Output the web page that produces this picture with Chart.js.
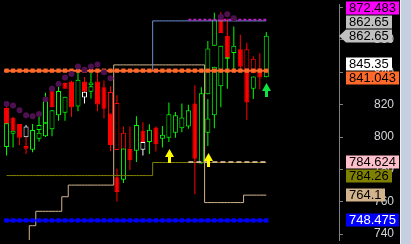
<!DOCTYPE html>
<html>
<head>
<meta charset="utf-8">
<script src="https://cdn.jsdelivr.net/npm/chart.js@4.4.1/dist/chart.umd.min.js"></script>
<style>
  html, body { margin: 0; padding: 0; background: #000; overflow: hidden; }
  #wrap { display: flex; width: 411px; height: 244px; }
  #side { width: 10px; height: 244px; background: #c6cfdf; border-left: 1px solid #eef0f5; }
</style>
</head>
<body>
<div id="wrap"><canvas id="chart" width="400" height="244"></canvas><div id="side"></div></div>
<script>
// main bars (index 0..40)
const openA  = [817.9, 811.9, 808.1, 799.9, 792.1, 804.3, 808.5, 829.5, 813.5, 833.4, 834.4, 818.9, 834.4, 832.0, 834.4, 830.8, 795.1, 792.0, 792.0, 792.6, 791.6, 803.9, 796.9, 805.9, 799.0, 799.6, 802.6, 805.5, 806.5, 820.8, 783.6, 826.5, 856.4, 873.3, 862.7, 851.9, 854.3, 841.4, 839.4, 842.4, 837.0];
const highA  = [818.5, 812.5, 808.1, 807.5, 808.1, 812.9, 827.4, 830.4, 833.4, 833.8, 834.8, 841.4, 837.0, 839.8, 840.4, 835.0, 831.4, 825.9, 806.5, 806.5, 812.9, 809.1, 807.9, 806.5, 806.9, 821.4, 815.5, 820.8, 819.9, 832.0, 830.8, 859.4, 876.9, 877.3, 873.3, 868.3, 863.3, 858.3, 850.0, 851.8, 864.9];
const lowA   = [808.1, 803.9, 795.1, 799.9, 790.6, 804.3, 808.5, 818.5, 810.1, 829.8, 812.5, 815.9, 828.0, 831.4, 815.9, 811.5, 791.2, 792.0, 779.6, 779.6, 784.6, 796.9, 789.6, 791.0, 793.6, 796.9, 799.6, 802.9, 805.1, 764.6, 783.6, 826.5, 856.4, 864.3, 848.4, 841.4, 841.4, 841.4, 839.4, 829.5, 837.0];
const closeA = [808.1, 803.9, 799.6, 806.5, 804.3, 807.5, 822.5, 818.5, 828.4, 829.8, 818.5, 835.4, 828.0, 833.8, 820.1, 817.5, 827.8, 821.1, 802.6, 785.6, 807.5, 796.9, 804.5, 795.6, 801.5, 814.1, 813.5, 812.1, 816.5, 786.6, 827.1, 854.7, 872.7, 864.3, 848.4, 856.4, 843.4, 854.3, 848.4, 836.8, 862.65];
// g = up hollow, r = down filled, w = white hollow, h = red hollow
const kindA  = ['r','r','r','w','g','g','g','r','g','r','r','g','r','g','r','r','h','h','h','r','g','r','g','r','g','g','g','g','g','r','g','g','g','r','r','g','r','h','h','r','g'];

// second overlaid series
const idxB   = [0, 1, 3, 5, 6, 7, 9, 12, 13, 16, 17, 18, 21, 31, 32, 33, 34, 37, 38];
const openB  = [793.9, 802.1, 794.4, 799.0, 800.5, 804.9, 815.1, 824.4, 828.0, 814.5, 775.2, 773.6, 792.1, 802.6, 813.5, 831.4, 848.4, 842.4, 829.8];
const highB  = [808.5, 803.9, 799.9, 804.3, 808.9, 816.5, 824.9, 828.0, 831.4, 814.5, 780.6, 793.0, 796.9, 823.5, 843.4, 856.4, 849.4, 842.4, 837.4];
const lowB   = [788.6, 793.6, 789.6, 797.2, 800.0, 800.5, 810.1, 820.8, 823.8, 795.1, 760.1, 771.6, 788.6, 794.5, 805.5, 818.5, 829.8, 810.5, 823.5];
const closeB = [808.5, 803.9, 792.7, 802.6, 808.9, 816.5, 824.9, 828.0, 831.4, 795.1, 766.1, 793.0, 796.9, 811.5, 843.4, 856.4, 849.4, 821.4, 837.4];
const kindB  = ['g','g','r','g','g','g','g','w','g','r','r','g','w','g','g','g','g','r','g'];

// dots above the bars
const dotIdx = [0, 1, 2, 3, 4, 5, 6, 7, 8, 9, 10, 11, 12, 13, 14, 15, 16, 33, 34, 35];
const dotVal = [820.5, 819.5, 816.5, 813.5, 812.9, 814.3, 823.2, 829.8, 832.8, 836.8, 839.0, 843.6, 841.6, 843.6, 844.8, 840.0, 836.4, 874.3, 875.9, 873.5];

// level lines
const orangeLevel = 841.043;
const blueLevel = 748.475;
const magentaLevel = 872.483;
const pinkLevel = 784.624;
const oliveFrom = [0, 23];
const oliveVal  = [776.2, 784.26];
const steelFrom = [0, 23];
const steelVal  = [841.0, 871.8];
const tanFrom = [-1, 4, 5, 9, 10, 17, 31, 37];
const tanVal  = [730, 745.2, 754.1, 763.1, 770.3, 844.6, 759.5, 764.1];

// arrows
const arrowIdx = [25, 31, 40];
const arrowVal = [792.6, 790.2, 833.4];
const arrowKind = ['y', 'y', 'g'];

// price tags on the axis
const tagText = ['872.483', '862.65', '862.65', '845.35', '841.043', '784.624', '784.26', '764.1', '748.475'];
const tagFill = ['#ff00ff', '#c0c0c0', '#c0c0c0', '#ffffff', '#ff6a2a', '#ffc0cb', '#808000', '#d2b48c', '#0000ff'];
const tagInk  = ['#000', '#000', '#000', '#000', '#000', '#000', '#000', '#000', '#fff'];
const lastTag = 2;

const lastIdx = openA.length - 1;

const bodyFill = { g: '#000000', r: '#ff0000', w: '#000000', h: '#000000' };
const bodyLine = { g: '#00ff00', r: '#ff0000', w: '#ffffff', h: '#ff0000' };

function range(a, b) {
    const out = [];
    for (let i = a; i <= b; i++) out.push(i);
    return out;
}

function steps(from, vals, first, last) {
    return range(first, last).map(i => {
        let v = vals[0];
        from.forEach((f, k) => { if (i >= f) v = vals[k]; });
        return { x: i, y: v };
    });
}

function flat(v, first, last) {
    return range(first, last).map(i => ({ x: i, y: v }));
}

function candleSets(ix, o, h, l, c, kind, order) {
    const wick = {
        type: 'bar', order: order + 1, grouped: false, barThickness: 1,
        borderWidth: 0, inflateAmount: 0,
        data: ix.map((x, j) => ({ x: x, y: [l[j], h[j]] })),
        backgroundColor: ctx => bodyLine[kind[ctx.dataIndex]]
    };
    const body = {
        type: 'bar', order: order, grouped: false, barThickness: 5,
        borderWidth: 1, borderSkipped: false, inflateAmount: 0,
        data: ix.map((x, j) => ({ x: x, y: [o[j], c[j]] })),
        backgroundColor: ctx => bodyFill[kind[ctx.dataIndex]],
        borderColor: ctx => bodyLine[kind[ctx.dataIndex]]
    };
    return [wick, body];
}

const levelLine = (data, color, order, extra) => Object.assign({
    type: 'line', order: order, data: data, borderColor: color, borderWidth: 1,
    pointRadius: 0, fill: false
}, extra || {});

const arrowsPlugin = {
    id: 'arrows',
    afterDatasetsDraw(chart) {
        const ctx = chart.ctx;
        const xs = chart.scales.x, ys = chart.scales.y;
        ctx.save();
        arrowIdx.forEach((i, k) => {
            const x = Math.round(xs.getPixelForValue(i));
            const y = Math.round(ys.getPixelForValue(arrowVal[k]));
            ctx.fillStyle = arrowKind[k] === 'y' ? '#ffff00' : '#10e040';
            ctx.beginPath();
            ctx.moveTo(x + 0.5, y);
            ctx.lineTo(x + 5, y + 8);
            ctx.lineTo(x + 2, y + 8);
            ctx.lineTo(x + 2, y + 14);
            ctx.lineTo(x - 1, y + 14);
            ctx.lineTo(x - 1, y + 8);
            ctx.lineTo(x - 4, y + 8);
            ctx.closePath();
            ctx.fill();
        });
        ctx.restore();
    }
};

const tagsPlugin = {
    id: 'tags',
    afterDraw(chart) {
        const ctx = chart.ctx;
        const ys = chart.scales.y;
        const axisX = chart.chartArea.right;
        const x0 = axisX + 7;
        const gap = 14, hh = 13;
        const pos = tagText.map(t => ys.getPixelForValue(parseFloat(t)));
        for (let i = lastTag - 1; i >= 0; i--) pos[i] = Math.min(pos[i], pos[i + 1] - gap);
        for (let i = lastTag + 1; i < pos.length; i++) pos[i] = Math.max(pos[i], pos[i - 1] + gap);
        ctx.save();
        ctx.font = '13px "Liberation Sans", Arial, sans-serif';
        ctx.textBaseline = 'middle';
        tagText.forEach((t, i) => {
            const p = Math.round(pos[i]);
            const w = Math.ceil(ctx.measureText(t).width) + 6;
            ctx.fillStyle = tagFill[i];
            ctx.fillRect(x0, p - 6.5, w, hh);
            if (i === lastTag) {
                ctx.beginPath();
                ctx.moveTo(axisX, p);
                ctx.lineTo(x0, p - 6.5);
                ctx.lineTo(x0, p + 6.5);
                ctx.closePath();
                ctx.fill();
            }
            ctx.fillStyle = tagInk[i];
            ctx.fillText(t, x0 + 3, p + 0.5);
        });
        ctx.restore();
    }
};

const datasets = [
    ...candleSets(range(0, lastIdx), openA, highA, lowA, closeA, kindA, 20),
    ...candleSets(idxB, openB, highB, lowB, closeB, kindB, 10),
    levelLine(steps(tanFrom, tanVal, -1, lastIdx), '#d2b48c', 6, { stepped: 'middle' }),
    levelLine(steps(oliveFrom, oliveVal, 0, lastIdx), '#808000', 5, { stepped: 'middle' }),
    levelLine(flat(pinkLevel, 28, lastIdx), '#f4c8b8', 4, { borderWidth: 1.5, borderDash: [5, 3] }),
    levelLine(steps(steelFrom, steelVal, 0, lastIdx), '#6d8fd4', 5, { stepped: 'middle' }),
    levelLine(flat(magentaLevel, 28, lastIdx), '#c21ecf', 4, { borderWidth: 2, borderDash: [3, 2] }),
    levelLine(flat(orangeLevel, -1, lastIdx), '#ff6a2a', 3, {
        borderWidth: 2, pointRadius: 3, pointStyle: 'rect',
        pointBackgroundColor: '#ff6a2a', pointBorderWidth: 0
    }),
    levelLine(flat(blueLevel, -1, lastIdx), '#0000ff', 3, {
        borderWidth: 2, pointRadius: 3, pointStyle: 'rect',
        pointBackgroundColor: '#0000ff', pointBorderWidth: 0
    }),
    {
        type: 'line', order: 1, showLine: false,
        data: dotIdx.map((x, j) => ({ x: x, y: dotVal[j] })),
        pointStyle: 'circle', pointRadius: 3, pointBorderWidth: 0,
        pointBackgroundColor: '#4e1050'
    }
];

new Chart(document.getElementById('chart'), {
    type: 'bar',
    data: { datasets: datasets },
    options: {
        responsive: false,
        animation: false,
        devicePixelRatio: 1,
        layout: { padding: 0 },
        plugins: { legend: { display: false }, tooltip: { enabled: false } },
        scales: {
            x: {
                type: 'linear', display: false, offset: false,
                min: -0.396, max: 51.2,
                grid: { offset: false }
            },
            y: {
                position: 'right',
                min: 736.36, max: 882.25,
                border: { display: true, color: '#808080' },
                grid: { drawOnChartArea: false, drawTicks: true, tickLength: 4, color: '#808080' },
                ticks: {
                    stepSize: 20, includeBounds: false, padding: 31,
                    color: '#d4d6dc',
                    font: { family: '"Liberation Sans", Arial, sans-serif', size: 12 }
                },
                afterFit(scale) {
                    scale.width = 61;
                    scale.paddingTop = 0;
                    scale.paddingBottom = 0;
                }
            }
        }
    },
    plugins: [arrowsPlugin, tagsPlugin]
});
</script>
</body>
</html>
